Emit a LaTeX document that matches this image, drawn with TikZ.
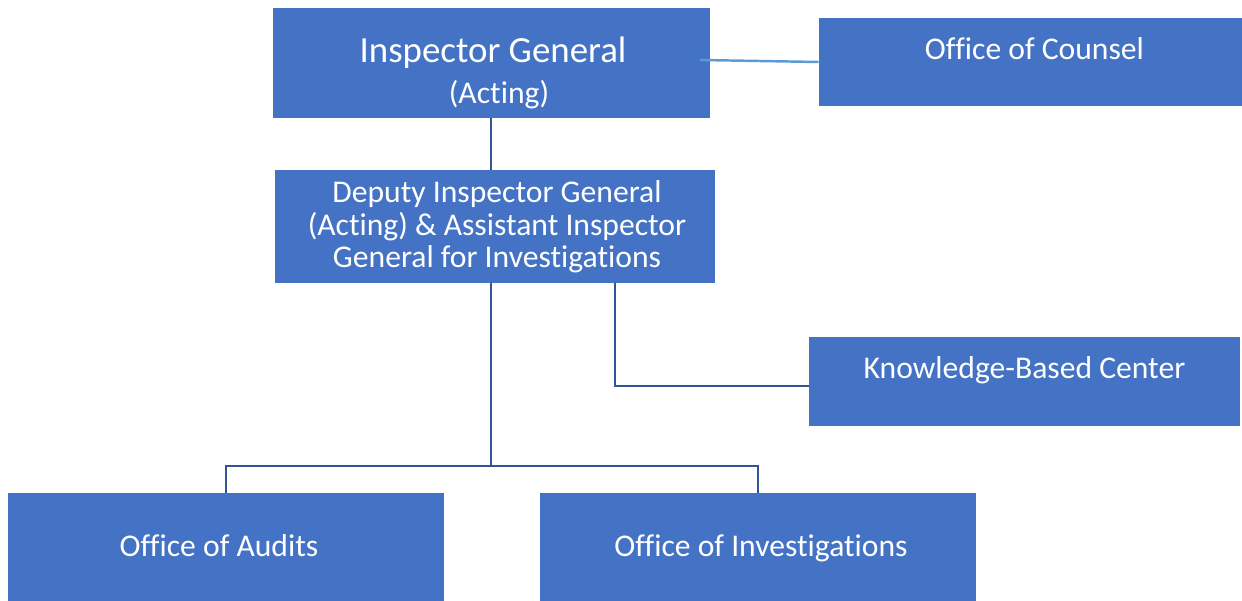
\documentclass[tikz,border=0pt]{standalone}
\usepackage{fontspec}
\setmainfont{Carlito}[RawFeature=-liga]
\definecolor{boxblue}{HTML}{4472C4}
\definecolor{linkblue}{HTML}{2F5597}
\definecolor{paleblue}{HTML}{5B9BD5}

\begin{document}
\begin{tikzpicture}[
  x=0.02cm, y=-0.02cm,
  unit/.style={fill=boxblue, inner sep=0pt},
  lbl/.style={text=white, inner sep=0pt, align=center,
    font=\fontsize{18}{18.4}\selectfont},
  link/.style={draw=linkblue, line width=1.5pt}]
\useasboundingbox (0,0) rectangle (1242,601);

\node[unit, minimum width=8.74cm, minimum height=2.2cm] (ig) at (491.5,63) {};
\node[unit, minimum width=8.46cm, minimum height=1.76cm] (counsel) at (1030.5,62) {};
\node[unit, minimum width=8.8cm, minimum height=2.26cm] (deputy) at (495,226.5) {};
\node[unit, minimum width=8.62cm, minimum height=1.78cm] (kbc) at (1024.5,381.5) {};
\node[unit, minimum width=8.72cm, minimum height=2.2cm] (audits) at (226,548) {};
\node[unit, minimum width=8.72cm, minimum height=2.2cm] (invest) at (758,548) {};

\node[lbl, anchor=base, font=\fontsize{21}{21}\selectfont] (igname) at (493,63) {Inspector General};
\node[lbl, anchor=base] (igact) at (499,104) {(Acting)};
\node[lbl, anchor=base] (counseltxt) at (1034.5,59.5) {Office of Counsel};
\node[lbl] (deputytxt) at (497,227) {Deputy Inspector General\\(Acting) \& Assistant Inspector\\General for Investigations};
\node[lbl, anchor=base] (kbctxt) at (1024.5,379) {Knowledge-Based Center};
\node[lbl, anchor=base] (auditstxt) at (219,557) {Office of Audits};
\node[lbl, anchor=base] (investtxt) at (761,557) {Office of Investigations};

\coordinate (igc) at (700,60);
\coordinate (kbcturn) at (615,386);
\coordinate (split) at (491,466);

\draw[draw=paleblue, line width=1.4pt] (igc) -- (counsel.west);
\draw[link] (ig.south -| split) -- (deputy.north -| split);
\draw[link] (deputy.south -| kbcturn) -- (kbcturn) -- (kbc.west |- kbcturn);
\draw[link] (deputy.south -| split) -- (split);
\draw[link] (audits.north) -- (audits.north |- split) -- (invest.north |- split) -- (invest.north);
\end{tikzpicture}
\end{document}
